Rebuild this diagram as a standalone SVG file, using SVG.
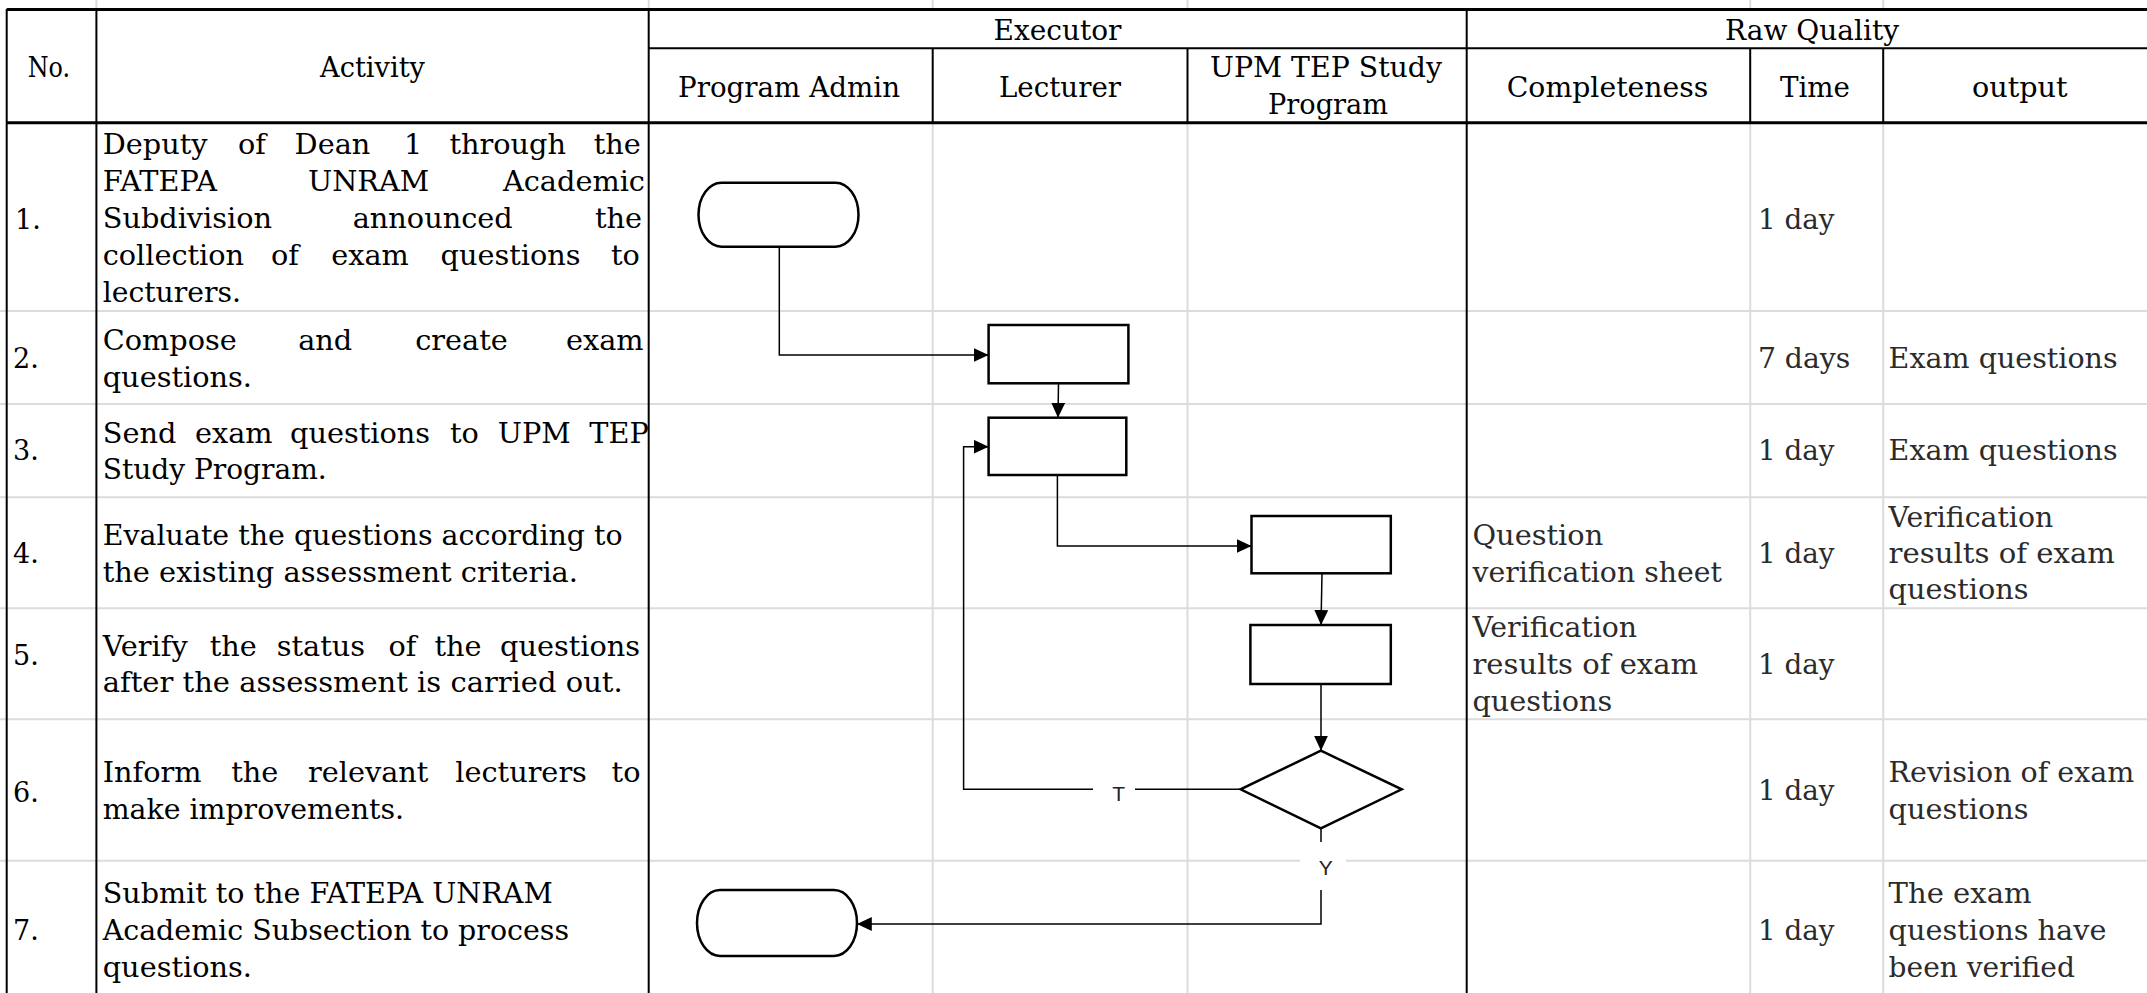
<svg xmlns="http://www.w3.org/2000/svg" width="2147" height="993" viewBox="0 0 2147 993">
<defs>
<style>
.t{font-family:"DejaVu Serif","Liberation Serif",serif;font-size:27px;fill:#000}
.q{fill:#2b2b2b}
.lbl{font-family:"Liberation Sans",Arial,sans-serif;font-size:21px;fill:#222}
.grid{stroke:#dcdcdc;stroke-width:2;fill:none}
.bk{stroke:#000;stroke-width:2;fill:none}
.bk3{stroke:#000;stroke-width:3;fill:none}
.node{fill:#fff;stroke:#000;stroke-width:2.5}
.conn{fill:none;stroke:#000;stroke-width:1.5}
</style>
<marker id="arr" markerUnits="userSpaceOnUse" viewBox="0 0 15 14" markerWidth="15" markerHeight="14" refX="15" refY="7" orient="auto"><path d="M0,0 L15,7 L0,14 z" fill="#000"/></marker>
</defs>
<rect width="2147" height="993" fill="#fff"/>
<g id="table">
<g class="grid">
<path d="M96.4,0V8M648.7,0V8M932.7,0V8M1187.5,0V8M1750.2,0V8M1883.2,0V8"/>
<path d="M0,311H2147M0,404H2147M0,497.3H2147M0,608.3H2147M0,719.3H2147M0,860.7H2147"/>
<path d="M932.7,123V993M1187.5,123V993M1750.2,123V993M1883.2,123V993"/>
</g>
<path class="bk3" d="M6.7,9.5H2147M6.7,122.7H2147"/>
<path class="bk" d="M648.7,48.3H2147"/>
<path class="bk" d="M6.7,9V993M96.4,9V993M648.7,9V993M1466.7,9V993"/>
<path class="bk" d="M932.7,48V123M1187.5,48V123M1750.2,48V123M1883.2,48V123"/>
</g>
<g id="header">
<text class="t" x="27.7" y="76.7" textLength="42.4" lengthAdjust="spacingAndGlyphs">No.</text>
<text class="t" x="320" y="76.7" textLength="105" lengthAdjust="spacingAndGlyphs">Activity</text>
<text class="t" x="993.5" y="40" textLength="128" lengthAdjust="spacingAndGlyphs">Executor</text>
<text class="t" x="1725" y="40" textLength="174" lengthAdjust="spacingAndGlyphs">Raw Quality</text>
<text class="t" x="678" y="96.7" textLength="222" lengthAdjust="spacingAndGlyphs">Program Admin</text>
<text class="t" x="999" y="96.7" textLength="122" lengthAdjust="spacingAndGlyphs">Lecturer</text>
<text class="t" x="1210" y="77.3" textLength="232" lengthAdjust="spacingAndGlyphs">UPM TEP Study</text>
<text class="t" x="1268" y="114.3" textLength="120" lengthAdjust="spacingAndGlyphs">Program</text>
<text class="t" x="1506.7" y="97.3" textLength="201.6" lengthAdjust="spacingAndGlyphs">Completeness</text>
<text class="t" x="1780" y="97.3" textLength="70" lengthAdjust="spacingAndGlyphs">Time</text>
<text class="t" x="1972" y="97.3" textLength="95.6" lengthAdjust="spacingAndGlyphs">output</text>
</g>
<g id="numbers">
<text class="t" x="15" y="229">1.</text>
<text class="t" x="13" y="368.3">2.</text>
<text class="t" x="13" y="460">3.</text>
<text class="t" x="13" y="563.3">4.</text>
<text class="t" x="13" y="665">5.</text>
<text class="t" x="13" y="801.7">6.</text>
<text class="t" x="13" y="940">7.</text>
</g>
<g id="activities">
<text class="t" y="154" transform="scale(1.065 1)"><tspan x="96.43">Deputy</tspan><tspan x="223.38">of</tspan><tspan x="276.62">Dean</tspan><tspan x="379.34">1</tspan><tspan x="422.07">through</tspan><tspan x="557.5">the</tspan></text>
<text class="t" y="190.7" transform="scale(1.065 1)"><tspan x="96.43">FATEPA</tspan><tspan x="289.2">UNRAM</tspan><tspan x="472.3">Academic</tspan></text>
<text class="t" y="227.7" transform="scale(1.065 1)"><tspan x="96.43">Subdivision</tspan><tspan x="331.17">announced</tspan><tspan x="558.7">the</tspan></text>
<text class="t" y="265" transform="scale(1.065 1)"><tspan x="96.43">collection</tspan><tspan x="254.46">of</tspan><tspan x="310.99">exam</tspan><tspan x="413.71">questions</tspan><tspan x="573.7">to</tspan></text>
<text class="t" x="102.7" y="301.7" textLength="138.3" lengthAdjust="spacingAndGlyphs">lecturers.</text>
<text class="t" y="350" transform="scale(1.065 1)"><tspan x="96.43">Compose</tspan><tspan x="280">and</tspan><tspan x="389.86">create</tspan><tspan x="531.46">exam</tspan></text>
<text class="t" x="102.7" y="386.7" textLength="149.3" lengthAdjust="spacingAndGlyphs">questions.</text>
<text class="t" y="442.7" transform="scale(1.065 1)"><tspan x="96.43">Send</tspan><tspan x="183.1">exam</tspan><tspan x="272.3">questions</tspan><tspan x="422.5">to</tspan><tspan x="467.3">UPM</tspan><tspan x="553.3">TEP</tspan></text>
<text class="t" x="102.7" y="479.3" textLength="224" lengthAdjust="spacingAndGlyphs">Study Program.</text>
<text class="t" x="102.7" y="545" textLength="520" lengthAdjust="spacingAndGlyphs">Evaluate the questions according to</text>
<text class="t" x="102.7" y="581.7" textLength="475.3" lengthAdjust="spacingAndGlyphs">the existing assessment criteria.</text>
<text class="t" y="656" transform="scale(1.065 1)"><tspan x="96.43">Verify</tspan><tspan x="197">the</tspan><tspan x="259.9">status</tspan><tspan x="364.7">of</tspan><tspan x="407.9">the</tspan><tspan x="469.5">questions</tspan></text>
<text class="t" x="102.7" y="691.7" textLength="520" lengthAdjust="spacingAndGlyphs">after the assessment is carried out.</text>
<text class="t" y="781.7" transform="scale(1.065 1)"><tspan x="96.43">Inform</tspan><tspan x="217.1">the</tspan><tspan x="289.2">relevant</tspan><tspan x="427.5">lecturers</tspan><tspan x="574.3">to</tspan></text>
<text class="t" x="102.7" y="819.3" textLength="301.3" lengthAdjust="spacingAndGlyphs">make improvements.</text>
<text class="t" x="102.7" y="902.7" textLength="450" lengthAdjust="spacingAndGlyphs">Submit to the FATEPA UNRAM</text>
<text class="t" x="102.7" y="940" textLength="466.3" lengthAdjust="spacingAndGlyphs">Academic Subsection to process</text>
<text class="t" x="102.7" y="976.7" textLength="149.3" lengthAdjust="spacingAndGlyphs">questions.</text>
</g>
<g id="quality">
<text class="t q" x="1757.9" y="229" textLength="76.6" lengthAdjust="spacingAndGlyphs">1 day</text>
<text class="t q" x="1757.9" y="368.3" textLength="92.4" lengthAdjust="spacingAndGlyphs">7 days</text>
<text class="t q" x="1888.6" y="368.3" textLength="229" lengthAdjust="spacingAndGlyphs">Exam questions</text>
<text class="t q" x="1757.9" y="460" textLength="76.6" lengthAdjust="spacingAndGlyphs">1 day</text>
<text class="t q" x="1888.6" y="460" textLength="229" lengthAdjust="spacingAndGlyphs">Exam questions</text>
<text class="t q" x="1472.5" y="545" textLength="130.7" lengthAdjust="spacingAndGlyphs">Question</text>
<text class="t q" x="1472.5" y="581.7" textLength="249.3" lengthAdjust="spacingAndGlyphs">verification sheet</text>
<text class="t q" x="1757.9" y="563.3" textLength="76.6" lengthAdjust="spacingAndGlyphs">1 day</text>
<text class="t q" x="1888.6" y="526.7" textLength="164.6" lengthAdjust="spacingAndGlyphs">Verification</text>
<text class="t q" x="1888.6" y="563.3" textLength="226.4" lengthAdjust="spacingAndGlyphs">results of exam</text>
<text class="t q" x="1888.6" y="599.3" textLength="139.8" lengthAdjust="spacingAndGlyphs">questions</text>
<text class="t q" x="1472.5" y="637.3" textLength="164.5" lengthAdjust="spacingAndGlyphs">Verification</text>
<text class="t q" x="1472.5" y="674" textLength="225.5" lengthAdjust="spacingAndGlyphs">results of exam</text>
<text class="t q" x="1472.5" y="711.3" textLength="139.8" lengthAdjust="spacingAndGlyphs">questions</text>
<text class="t q" x="1757.9" y="674" textLength="76.6" lengthAdjust="spacingAndGlyphs">1 day</text>
<text class="t q" x="1757.9" y="800" textLength="76.6" lengthAdjust="spacingAndGlyphs">1 day</text>
<text class="t q" x="1888.6" y="781.7" textLength="245.8" lengthAdjust="spacingAndGlyphs">Revision of exam</text>
<text class="t q" x="1888.6" y="819.3" textLength="139.8" lengthAdjust="spacingAndGlyphs">questions</text>
<text class="t q" x="1757.9" y="940" textLength="76.6" lengthAdjust="spacingAndGlyphs">1 day</text>
<text class="t q" x="1888.6" y="902.7" textLength="143" lengthAdjust="spacingAndGlyphs">The exam</text>
<text class="t q" x="1888.6" y="940" textLength="217.8" lengthAdjust="spacingAndGlyphs">questions have</text>
<text class="t q" x="1888.6" y="976.7" textLength="186.3" lengthAdjust="spacingAndGlyphs">been verified</text>
</g>
<g id="connectors">
<path class="conn" d="M779.3,246.7V355H988.6" marker-end="url(#arr)"/>
<path class="conn" d="M1058.5,383.3L1058,417.7" marker-end="url(#arr)"/>
<path class="conn" d="M1057.4,475V546H1251.5" marker-end="url(#arr)"/>
<path class="conn" d="M1322,573.3L1321,625" marker-end="url(#arr)"/>
<path class="conn" d="M1321,684V750.7" marker-end="url(#arr)"/>
<path class="conn" d="M1240.6,789.3H963.6V446.7H988.6" marker-end="url(#arr)"/>
<path class="conn" d="M1321,828.3V924H856.8" marker-end="url(#arr)"/>
<g id="label-T">
<rect x="1093" y="776" width="42" height="32" fill="#fff"/>
<text class="lbl" x="1118.7" y="800.7" text-anchor="middle">T</text>
</g>
<g id="label-Y">
<rect x="1300" y="842" width="46" height="48" fill="#fff"/>
<text class="lbl" x="1325.8" y="875" text-anchor="middle">Y</text>
</g>
</g>
<g id="start"><rect class="node" x="698.5" y="182.7" width="160" height="64" rx="23" ry="32"/></g>
<g id="compose"><rect class="node" x="988.6" y="325" width="139.8" height="58.3"/></g>
<g id="send"><rect class="node" x="988.6" y="417.7" width="137.7" height="57.3"/></g>
<g id="evaluate"><rect class="node" x="1251.5" y="516" width="139.3" height="57.3"/></g>
<g id="verify"><rect class="node" x="1250.4" y="625" width="140.4" height="59"/></g>
<g id="decision"><path class="node" d="M1320.9,750.7L1401.7,789.3L1320.9,828.3L1240.6,789.3Z"/></g>
<g id="end"><rect class="node" x="697" y="890" width="160" height="66" rx="23" ry="33"/></g>
</svg>
